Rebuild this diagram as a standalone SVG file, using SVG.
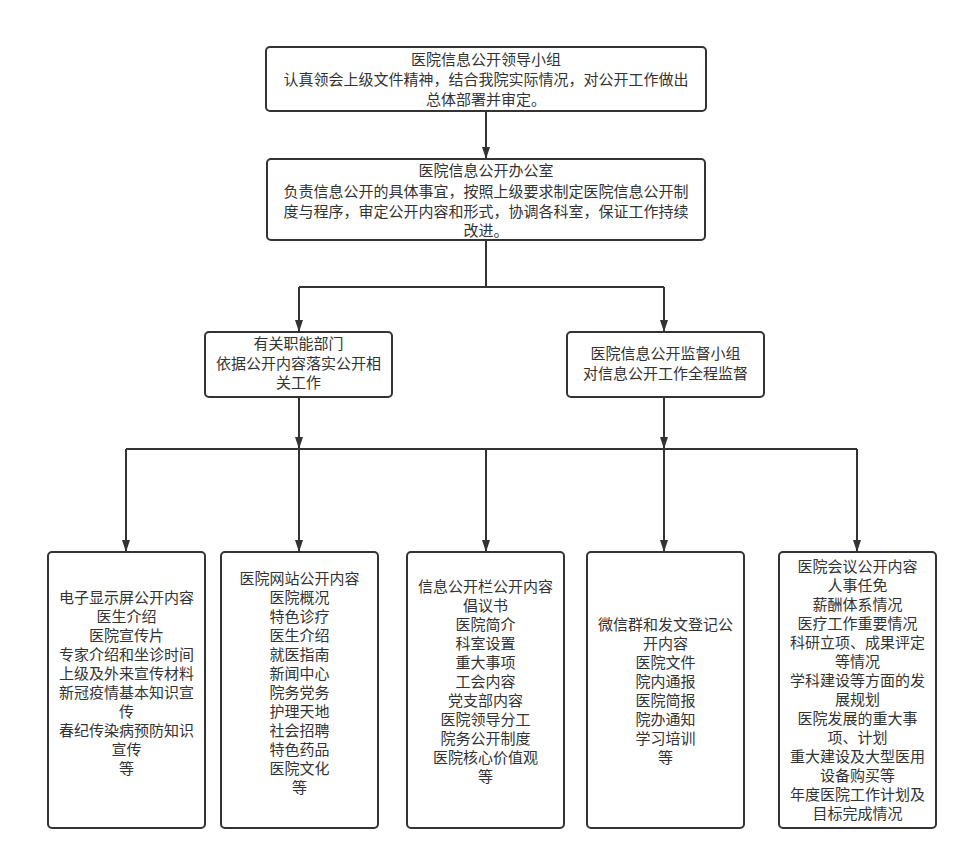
<svg xmlns="http://www.w3.org/2000/svg" width="968" height="861" viewBox="0 0 968 861">
<defs>
<style>
.box{fill:#fff;stroke:#333;stroke-width:2}
.t{font-family:"Noto Sans CJK SC","Noto Sans",sans-serif;font-size:15px;fill:#333;text-anchor:middle}
.c{fill:none;stroke:#333;stroke-width:2}
</style>
<marker id="ah" markerUnits="userSpaceOnUse" markerWidth="12" markerHeight="10" viewBox="0 0 12 10" refX="12" refY="5" orient="auto">
<path d="M0,1 L12,5 L0,9 z" fill="#333"/>
</marker>
</defs>
<rect width="968" height="861" fill="#fff"/>
<g id="connectors">
<path class="c" d="M486,111 V159" marker-end="url(#ah)"/>
<path class="c" d="M486,240 V287 M299,287 H664"/>
<path class="c" d="M299,287 V332" marker-end="url(#ah)"/>
<path class="c" d="M664,287 V332" marker-end="url(#ah)"/>
<path class="c" d="M299,397 V449" marker-end="url(#ah)"/>
<path class="c" d="M664,397 V449" marker-end="url(#ah)"/>
<path class="c" d="M126,449 H857"/>
<path class="c" d="M126,449 V552" marker-end="url(#ah)"/>
<path class="c" d="M299,449 V552" marker-end="url(#ah)"/>
<path class="c" d="M486,449 V552" marker-end="url(#ah)"/>
<path class="c" d="M664,449 V552" marker-end="url(#ah)"/>
<path class="c" d="M857,449 V552" marker-end="url(#ah)"/>
</g>
<g id="leader">
<rect class="box" x="266" y="47" width="440" height="64" rx="4"/>
<text class="t" x="486" y="64.5">医院信息公开领导小组</text>
<text class="t" x="486" y="84.5">认真领会上级文件精神，结合我院实际情况，对公开工作做出</text>
<text class="t" x="486" y="104.5">总体部署并审定。</text>
</g>
<g id="office">
<rect class="box" x="267" y="159" width="438" height="81" rx="4"/>
<text class="t" x="486" y="176">医院信息公开办公室</text>
<text class="t" x="486" y="196.5">负责信息公开的具体事宜，按照上级要求制定医院信息公开制</text>
<text class="t" x="486" y="216.5">度与程序，审定公开内容和形式，协调各科室，保证工作持续</text>
<text class="t" x="486" y="236">改进。</text>
</g>
<g id="departments">
<rect class="box" x="205" y="332" width="187" height="65" rx="4"/>
<text class="t" x="298.5" y="348.5">有关职能部门</text>
<text class="t" x="298.5" y="368.5">依据公开内容落实公开相</text>
<text class="t" x="298.5" y="388">关工作</text>
</g>
<g id="supervision">
<rect class="box" x="567" y="332" width="197" height="65" rx="4"/>
<text class="t" x="665.5" y="359">医院信息公开监督小组</text>
<text class="t" x="665.5" y="379">对信息公开工作全程监督</text>
</g>
<g id="screen">
<rect class="box" x="48" y="552" width="157" height="276" rx="4"/>
<text class="t" x="126.5" y="602.5">电子显示屏公开内容</text>
<text class="t" x="126.5" y="621.5">医生介绍</text>
<text class="t" x="126.5" y="640.5">医院宣传片</text>
<text class="t" x="126.5" y="659.5">专家介绍和坐诊时间</text>
<text class="t" x="126.5" y="678.5">上级及外来宣传材料</text>
<text class="t" x="126.5" y="697.5">新冠疫情基本知识宣</text>
<text class="t" x="126.5" y="716.5">传</text>
<text class="t" x="126.5" y="735.5">春纪传染病预防知识</text>
<text class="t" x="126.5" y="754.5">宣传</text>
<text class="t" x="126.5" y="773.5">等</text>
</g>
<g id="website">
<rect class="box" x="221" y="552" width="157" height="276" rx="4"/>
<text class="t" x="299.5" y="583.5">医院网站公开内容</text>
<text class="t" x="299.5" y="602.5">医院概况</text>
<text class="t" x="299.5" y="621.5">特色诊疗</text>
<text class="t" x="299.5" y="640.5">医生介绍</text>
<text class="t" x="299.5" y="659.5">就医指南</text>
<text class="t" x="299.5" y="678.5">新闻中心</text>
<text class="t" x="299.5" y="697.5">院务党务</text>
<text class="t" x="299.5" y="716.5">护理天地</text>
<text class="t" x="299.5" y="735.5">社会招聘</text>
<text class="t" x="299.5" y="754.5">特色药品</text>
<text class="t" x="299.5" y="773.5">医院文化</text>
<text class="t" x="299.5" y="792.5">等</text>
</g>
<g id="board">
<rect class="box" x="407" y="552" width="157" height="276" rx="4"/>
<text class="t" x="485.5" y="591.5">信息公开栏公开内容</text>
<text class="t" x="485.5" y="610.5">倡议书</text>
<text class="t" x="485.5" y="629.5">医院简介</text>
<text class="t" x="485.5" y="648.5">科室设置</text>
<text class="t" x="485.5" y="667.5">重大事项</text>
<text class="t" x="485.5" y="686.5">工会内容</text>
<text class="t" x="485.5" y="705.5">党支部内容</text>
<text class="t" x="485.5" y="724.5">医院领导分工</text>
<text class="t" x="485.5" y="743.5">院务公开制度</text>
<text class="t" x="485.5" y="762.5">医院核心价值观</text>
<text class="t" x="485.5" y="781.5">等</text>
</g>
<g id="wechat">
<rect class="box" x="587" y="552" width="157" height="276" rx="4"/>
<text class="t" x="665.5" y="629.5">微信群和发文登记公</text>
<text class="t" x="665.5" y="648.5">开内容</text>
<text class="t" x="665.5" y="667.5">医院文件</text>
<text class="t" x="665.5" y="686.5">院内通报</text>
<text class="t" x="665.5" y="705.5">医院简报</text>
<text class="t" x="665.5" y="724.5">院办通知</text>
<text class="t" x="665.5" y="743.5">学习培训</text>
<text class="t" x="665.5" y="762.5">等</text>
</g>
<g id="meeting">
<rect class="box" x="779" y="552" width="157" height="276" rx="4"/>
<text class="t" x="857.5" y="571.5">医院会议公开内容</text>
<text class="t" x="857.5" y="590.5">人事任免</text>
<text class="t" x="857.5" y="609.5">薪酬体系情况</text>
<text class="t" x="857.5" y="628.5">医疗工作重要情况</text>
<text class="t" x="857.5" y="647.5">科研立项、成果评定</text>
<text class="t" x="857.5" y="666.5">等情况</text>
<text class="t" x="857.5" y="685.5">学科建设等方面的发</text>
<text class="t" x="857.5" y="704.5">展规划</text>
<text class="t" x="857.5" y="723.5">医院发展的重大事</text>
<text class="t" x="857.5" y="742.5">项、计划</text>
<text class="t" x="857.5" y="761.5">重大建设及大型医用</text>
<text class="t" x="857.5" y="780.5">设备购买等</text>
<text class="t" x="857.5" y="799.5">年度医院工作计划及</text>
<text class="t" x="857.5" y="818.5">目标完成情况</text>
</g>
</svg>
